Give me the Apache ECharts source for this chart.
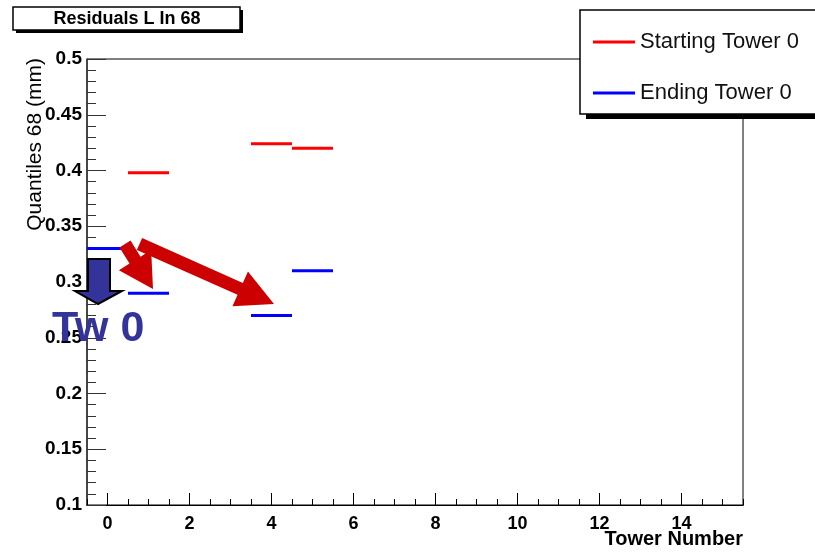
<!DOCTYPE html>
<html>
<head>
<meta charset="utf-8">
<script src="https://cdn.jsdelivr.net/npm/echarts@6/dist/echarts.min.js"></script>
<style>
  html, body { margin: 0; padding: 0; background: #fff; }
  #chart { width: 815px; height: 555px; }
</style>
</head>
<body>
<div id="chart"></div>
<script>
// one bin per tower, null = empty bin
const towerNumbers = [0, 1, 2, 3, 4, 5, 6, 7, 8, 9, 10, 11, 12, 13, 14, 15]
const startingTower = [null, 0.398, null, null, 0.424, 0.420, null, null, null, null, null, null, null, null, null, null]
const endingTower = [0.330, 0.290, null, null, 0.270, 0.310, null, null, null, null, null, null, null, null, null, null]
const xLabelValues = [0, 2, 4, 6, 8, 10, 12, 14]
const xMinorValues = [-0.5, 0.5, 1, 1.5, 2.5, 3, 3.5, 4.5, 5, 5.5, 6.5, 7, 7.5, 8.5, 9, 9.5, 10.5, 11, 11.5, 12.5, 13, 13.5, 14.5, 15, 15.5]

const FONT = '"Liberation Sans", Arial, Helvetica, sans-serif'

const toBins = arr => towerNumbers.map((t, i) => [t, arr[i]]).filter(d => d[1] != null)

// horizontal bar across the whole bin, like ROOT's histogram draw
const binLine = (params, api) => {
  const x = api.value(0)
  const y = api.value(1)
  const a = api.coord([x - 0.5, y])
  const b = api.coord([x + 0.5, y])
  return {
    type: 'line',
    shape: { x1: a[0], y1: a[1], x2: b[0], y2: b[1] },
    style: { stroke: api.visual('color'), lineWidth: 3 },
  }
}

// thick block arrow polygon from (x1,y1) to tip (x2,y2)
function arrow(x1, y1, x2, y2, shaftW, headW, headL) {
  const dx = x2 - x1, dy = y2 - y1
  const len = Math.sqrt(dx * dx + dy * dy)
  const ux = dx / len, uy = dy / len
  const nx = -uy, ny = ux
  const bx = x2 - ux * headL, by = y2 - uy * headL
  return [
    [x1 + nx * shaftW / 2, y1 + ny * shaftW / 2],
    [bx + nx * shaftW / 2, by + ny * shaftW / 2],
    [bx + nx * headW / 2, by + ny * headW / 2],
    [x2, y2],
    [bx - nx * headW / 2, by - ny * headW / 2],
    [bx - nx * shaftW / 2, by - ny * shaftW / 2],
    [x1 - nx * shaftW / 2, y1 - ny * shaftW / 2],
  ]
}

const chart = echarts.init(document.getElementById('chart'))

const xBase = {
  type: 'value', min: -0.5, max: 15.5,
  axisLine: { show: true, onZero: false, lineStyle: { color: '#000', width: 1 } },
  splitLine: { show: false },
}

chart.setOption({
  animation: false,
  color: ['#ff0000', '#0000ff'],
  grid: { left: 87, top: 59, right: 72, bottom: 50, show: true, borderColor: '#000', borderWidth: 1 },
  legend: {
    left: 588, top: 26, orient: 'vertical', z: 20,
    icon: 'rect', itemWidth: 42, itemHeight: 3, itemGap: 29,
    textStyle: { fontFamily: FONT, fontSize: 22, color: '#111', lineHeight: 22 },
    data: ['Starting Tower 0', 'Ending Tower 0'],
  },
  xAxis: [
    {
      ...xBase,
      axisTick: { show: true, inside: true, length: 12, customValues: xLabelValues, lineStyle: { color: '#000' } },
      axisLabel: {
        customValues: xLabelValues, margin: 10,
        fontFamily: FONT, fontSize: 18, fontWeight: 'bold', color: '#000',
      },
    },
    {
      ...xBase,
      gridIndex: 0, position: 'bottom',
      axisTick: { show: true, inside: true, length: 6, customValues: xMinorValues, lineStyle: { color: '#000' } },
      axisLabel: { show: false },
    },
  ],
  yAxis: {
    type: 'value', min: 0.1, max: 0.5, interval: 0.05,
    axisLine: { show: true, onZero: false, lineStyle: { color: '#333', width: 1.5 } },
    axisTick: { show: true, inside: true, length: 19, lineStyle: { color: '#333' } },
    minorTick: { show: true, splitNumber: 5, length: 9, lineStyle: { color: '#333' } },
    splitLine: { show: false },
    axisLabel: {
      margin: 5, fontFamily: FONT, fontSize: 19, fontWeight: 'bold', color: '#000',
      formatter: v => String(+v.toFixed(2)),
    },
  },
  series: [
    { name: 'Starting Tower 0', type: 'custom', renderItem: binLine, data: toBins(startingTower), z: 5 },
    { name: 'Ending Tower 0', type: 'custom', renderItem: binLine, data: toBins(endingTower), z: 5 },
  ],
  graphic: [
    // title box
    { type: 'rect', shape: { x: 16, y: 10, width: 227, height: 23 }, style: { fill: '#000' }, z: 10 },
    { type: 'rect', shape: { x: 13, y: 7, width: 227, height: 23 }, style: { fill: '#fff', stroke: '#000', lineWidth: 1.5 }, z: 11 },
    {
      type: 'text', x: 127, y: 19, z: 12,
      style: { text: 'Residuals L In 68', fontFamily: FONT, fontSize: 18, fontWeight: 'bold', fill: '#000', align: 'center', verticalAlign: 'middle' },
    },
    // legend box
    { type: 'rect', shape: { x: 586, y: 15, width: 240, height: 104 }, style: { fill: '#000' }, z: 10 },
    { type: 'rect', shape: { x: 580, y: 10, width: 240, height: 104 }, style: { fill: '#fff', stroke: '#000', lineWidth: 1.5 }, z: 11 },
    // axis titles
    {
      type: 'text', x: 35, y: 58, rotation: Math.PI / 2, z: 12,
      style: { text: 'Quantiles 68 (mm)', fontFamily: FONT, fontSize: 21, fill: '#000', align: 'right', verticalAlign: 'middle' },
    },
    {
      type: 'text', x: 743, y: 539, z: 12,
      style: { text: 'Tower Number', fontFamily: FONT, fontSize: 20, fontWeight: 'bold', fill: '#000', align: 'right', verticalAlign: 'middle' },
    },
    // slide annotations
    {
      type: 'polygon', z: 15,
      shape: { points: [[88, 259], [110, 259], [110, 291], [122, 291], [98, 304], [75, 291], [88, 291]] },
      style: { fill: '#333399', stroke: '#000', lineWidth: 2 },
    },
    {
      type: 'text', x: 52, y: 351, z: 16,
      style: { text: 'Tw 0', fontFamily: FONT, fontSize: 43, fontWeight: 'bold', fill: '#333399', align: 'left', verticalAlign: 'bottom' },
    },
    { type: 'polygon', z: 15, shape: { points: arrow(125, 244, 153, 289, 13, 38, 34) }, style: { fill: '#cc0000' } },
    { type: 'polygon', z: 15, shape: { points: arrow(139.5, 244, 274, 304, 13, 38, 37) }, style: { fill: '#cc0000' } },
  ],
})
</script>
</body>
</html>
